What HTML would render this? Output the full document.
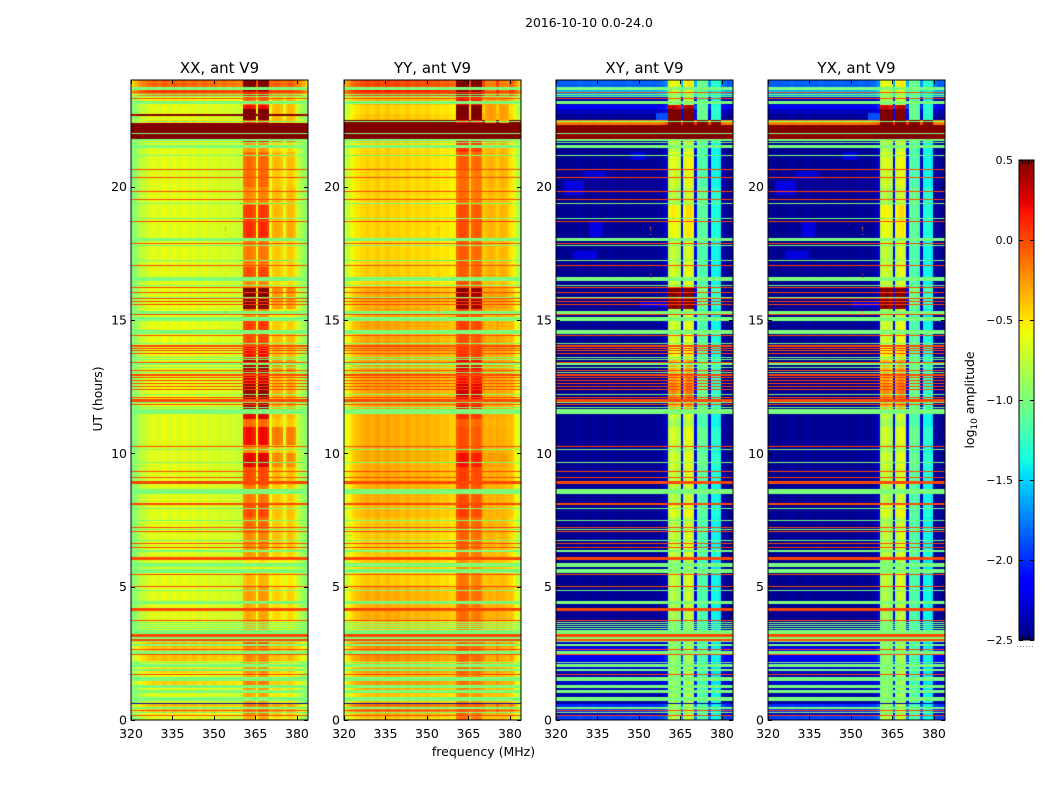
<!DOCTYPE html>
<html lang="en">
<head>
<meta charset="utf-8">
<title>2016-10-10 0.0-24.0</title>
<style>
html,body{margin:0;padding:0;background:#fff;}
#figure{position:relative;width:1050px;height:800px;overflow:hidden;background:#fff;font-family:"DejaVu Sans","Liberation Sans",sans-serif;}
canvas{position:absolute;display:block;}
svg{position:absolute;left:0;top:0;}
svg text{font-family:"DejaVu Sans","Liberation Sans",sans-serif;fill:#000;}
</style>
</head>
<body>
<div id="figure">
<svg id="overlay" width="1050" height="800"></svg>
</div>
<script>
/* ---------- tick labels ---------- */
const freqTicks = [320, 335, 350, 365, 380];
const hourTicks = [0, 5, 10, 15, 20];
const colorbarTicks = [0.5, 0.0, -0.5, -1.0, -1.5, -2.0, -2.5];
const colorbarEndTicks = [1, 2, 3, 4];

/* ---------- frequency channels (MHz edges) ---------- */
const freqEdges = [320,321,322,323,324,325.8,327.6,329.4,331.2,333,334.8,336.6,338.4,340.2,342,343.8,345.6,347.4,349.2,351,352.8,354.6,356.4,358,359.5,360.6,361.7,362.8,363.9,365.1,365.8,366.9,368,369,369.9,370.9,371.9,372.9,373.9,375,375.9,376.9,377.9,378.9,379.7,381,382,383,384];
const channelClass = [0,0,0,0,0,0,0,0,0,0,0,0,0,0,0,0,0,0,0,0,0,0,0,0,0,1,1,1,1,0,1,1,1,1,0,2,2,2,2,0,2,2,2,2,0,0,0,0];

/* ---------- quiet log10 amplitude per channel ---------- */
const xxProfile = [-1.0,-.92,-.85,-.78,-.72,-.66,-.62,-.66,-.6,-.66,-.6,-.65,-.6,-.66,-.62,-.68,-.62,-.68,-.64,-.7,-.66,-.7,-.68,-.72,-.72,-.35,-.3,-.3,-.35,-.6,-.3,-.28,-.3,-.35,-.65,-.48,-.45,-.45,-.5,-.68,-.5,-.45,-.47,-.55,-.72,-.8,-.88,-.98];
const yyProfile = [-.78,-.7,-.62,-.56,-.5,-.46,-.42,-.46,-.4,-.46,-.4,-.45,-.42,-.47,-.42,-.48,-.44,-.48,-.44,-.5,-.47,-.52,-.5,-.55,-.55,-.15,-.1,-.1,-.12,-.45,-.18,-.15,-.15,-.18,-.42,-.38,-.36,-.36,-.38,-.42,-.38,-.36,-.38,-.42,-.5,-.6,-.72,-.85];
const xyProfile = [-2.45,-2.45,-2.45,-2.45,-2.45,-2.45,-2.42,-2.45,-2.45,-2.42,-2.45,-2.45,-2.42,-2.45,-2.45,-2.45,-2.42,-2.45,-2.45,-2.45,-2.42,-2.45,-2.42,-2.4,-2.3,-.85,-.75,-.8,-.9,-2.2,-.85,-.7,-.7,-.8,-2.2,-1.15,-1.2,-1.15,-1.2,-2.3,-1.4,-1.4,-1.4,-1.45,-2.4,-2.45,-2.45,-2.45];
const yxProfile = [-2.45,-2.45,-2.45,-2.45,-2.45,-2.45,-2.42,-2.45,-2.45,-2.42,-2.45,-2.45,-2.42,-2.45,-2.45,-2.45,-2.42,-2.45,-2.45,-2.45,-2.42,-2.45,-2.42,-2.4,-2.3,-.88,-.78,-.8,-.9,-2.2,-.85,-.72,-.7,-.8,-2.2,-1.15,-1.2,-1.15,-1.2,-2.3,-1.4,-1.4,-1.4,-1.45,-2.4,-2.45,-2.45,-2.45];

/* ---------- time segments (UT hour starts) and per-segment offsets ---------- */
const segStart = [0,.2,.3,.65,1,1.25,1.5,1.75,1.95,2.2,2.75,3.2,3.7,4.3,5,5.5,6,6.4,7,7.6,8.1,8.8,9.5,10,10.3,11,11.3,11.6,12,12.6,13,13.5,14,14.5,15,15.4,16,16.2,16.6,17,18,18.7,19.3,20,20.6,21.3,21.65,21.8,22,22.3,22.4,22.5,22.65,22.72,22.9,23.05,23.37,23.54,23.74];

const xxCont  = [0,.1,.25,0,.05,.2,.02,.2,.03,.25,.3,0,0,0,0,0,0,0,0,0,0,0,0,0,0,0,0,.02,.02,.02,.02,.02,.02,.02,.02,.02,.02,0,0,0,0,0,0,0,0,0,.1,2,2,2,.2,0,1.3,0,0,.1,.5,.7,.55];
const xxBandA = [0,.1,.15,0,.05,.15,.02,.1,.03,.1,.25,0,0,.05,-.05,-.2,.05,.1,.2,.3,.15,.3,.55,.1,.5,.2,.55,.7,.75,.6,.7,.5,.3,.35,.1,.8,.9,.1,.3,.15,.4,.35,.1,.2,.2,.05,.5,2,2,2,.3,1,1.5,1.1,.5,.2,.5,.7,.9];
const xxBandB = [0,.05,.15,-.05,0,.05,-.05,.05,-.05,.1,.15,-.1,0,.03,-.05,-.1,.03,.08,.05,.08,.05,.1,.25,.05,.3,.05,.1,.15,.15,.1,.2,.1,.1,.05,-.05,.2,.25,0,.05,.05,.15,.1,.1,.05,.1,0,.3,2,2,2,.1,.1,1,.1,.1,.1,.3,.5,.4];

const yyCont  = [.05,.1,.3,.05,.12,.2,.1,.2,.08,.22,.28,.05,.12,.12,.03,.03,.03,.03,.05,.1,.12,.13,.13,.13,.13,.13,.13,.15,.15,.15,.15,.15,.15,.15,.15,.13,.12,0,.02,0,0,0,0,0,0,0,.05,2,2,2,1.5,.05,.05,0,0,.1,.5,.6,.45];
const yyBandA = [0,0,.05,-.1,-.05,0,-.05,.05,-.05,.05,.05,-.1,0,.03,-.03,-.1,0,.03,.05,.15,.1,.15,.3,.1,.1,.05,.2,.3,.4,.3,.35,.2,.1,.15,.1,.55,.6,.1,.05,.05,.1,.1,0,0,.05,.2,.3,2,2,2,.3,.9,.9,.9,.9,.3,.5,.6,.8];
const yyBandB = [0,0,.1,0,0,.05,0,.05,0,.05,.1,-.05,.03,.03,0,-.03,.02,.03,.03,.03,.03,.05,.1,.03,.05,.03,.05,.05,.05,.05,.08,.05,.05,.03,.03,.1,.1,0,.05,.02,.03,.03,0,.03,.03,.03,.1,2,2,2,.05,.1,.1,.1,.1,.1,.2,.3,.2];

const xyCont  = [.5,.1,.45,.05,.1,.15,.1,.15,.2,.3,.15,.05,0,0,0,0,0,0,0,0,0,0,0,0,0,0,0,0,0,0,0,0,0,0,0,0,0,0,0,0,0,0,0,0,0,0,0,2.9,3,2.3,2.2,0,0,.1,.3,.1,.75,.85,.6];
const xyBandA = [0,-.1,-.05,-.1,-.1,-.1,-.15,-.05,-.1,-.1,-.1,-.15,-.05,0,.05,-.1,.05,.05,0,.15,0,.05,.1,0,.1,-.05,.05,.45,.6,.5,.45,.2,.1,.1,0,1.3,1.5,.1,.1,.05,.2,.25,0,.1,.15,0,.3,2.9,3,2.9,2,1.7,1.7,1.7,1.1,0,0,.1,.2];
const xyBandB = [0,0,0,0,-.05,-.05,-.05,-.05,-.05,0,-.05,-.1,0,0,0,-.05,.05,0,0,.05,0,.05,.1,0,.1,0,0,.1,.1,.1,.1,.05,.05,0,-.05,.1,.2,0,0,0,.05,.05,.1,0,0,0,.1,2.9,3,2.5,2,.1,.1,.1,.1,0,0,.1,.1];

const yxCont  = [.5,.1,.45,.05,.1,.15,.1,.15,.2,.3,.15,.05,0,0,0,0,0,0,0,0,0,0,0,0,0,0,0,0,0,0,0,0,0,0,0,0,0,0,0,0,0,0,0,0,0,0,0,2.9,3,2.3,2.2,0,0,.1,.3,.1,.75,.85,.6];
const yxBandA = [0,-.1,-.05,-.1,-.1,-.1,-.15,-.05,-.1,-.1,-.1,-.15,-.05,0,.05,-.1,.05,.05,0,.15,0,.05,.1,0,.1,-.05,.05,.45,.6,.5,.45,.25,.1,.1,0,1.3,1.5,.1,.1,.05,.2,.25,0,.1,.15,0,.3,2.9,3,2.9,2,1.7,1.7,1.7,1.1,0,0,.1,.2];
const yxBandB = [0,0,0,0,-.05,-.05,-.05,-.05,-.05,0,-.05,-.1,0,0,0,-.05,.05,0,0,.05,0,.05,.1,0,.1,0,0,.1,.1,.1,.1,.05,.05,0,-.05,.1,.2,0,0,0,.05,.05,.1,0,0,0,.1,2.9,3,2.5,2,.1,.1,.1,.1,0,0,.1,.1];

/* ---------- flagged time rows, UT hours ---------- */
const greenLines = [23.73,23.66,23.46,23.37,22.44,21.99,21.75,21.66,21.18,19.38,18.81,18.06,18.0,17.8,17.24,16.3,16.02,15.83,14.11,13.6,13.51,13.35,13.23,13.04,12.21,11.93,11.73,11.63,10.15,9.66,7.94,7.49,7.15,6.74,6.34,4.86,3.66,3.59,3.51,3.44,2.94,2.81,2.06,2.0,1.3,1.24,.45,.29];
const greenBlockStarts = [23.1,21.45,16.47,15.22,14.96,14.48,11.48,8.47,5.73,5.5,4.35,3.21,3.03,2.48,2.13,1.85,1.47,1.0,.71];
const greenBlockEnds = [23.2,21.58,16.61,15.33,15.1,14.63,11.59,8.65,5.88,5.66,4.45,3.36,3.1,2.59,2.19,1.91,1.61,1.13,.85];
const redLines = [23.54,23.31,20.65,20.35,19.83,19.53,18.7,17.88,17.05,16.23,16.04,15.8,15.7,15.59,15.21,14.43,14.03,13.94,13.85,13.75,13.41,13.11,12.94,12.84,12.72,12.61,12.5,12.4,12.1,12.01,11.96,11.84,10.26,9.33,9.1,8.94,8.9,8.86,8.1,7.23,7.08,6.63,6.48,6.08,6.04,5.46,5.01,4.19,4.13,3.74,3.2,3.15,3.0,2.65,2.46,1.71,.36,.16];
const blueLines = [.63];
const flagGreenLevel = -1.0;
const flagRedLevel = 0.0;
const flagBlueLevel = -2.4;

/* ---------- weak cross-hand RFI patches: start h, end h, start MHz, end MHz, level ---------- */
const crossPatchStartHour = [18.1,19.7,20.3,21.0,17.3,22.5,15.5];
const crossPatchEndHour   = [18.7,20.2,20.6,21.3,17.6,22.75,15.7];
const crossPatchStartFreq = [332,323,330,347,326,356,350];
const crossPatchEndFreq   = [337,330,338,352,335,360.6,360];
const crossPatchLevel     = [-2.25,-2.25,-2.28,-2.25,-2.25,-1.9,-2.2];

/* ---------- isolated bad samples near one channel ---------- */
const speckHours = [18.45,18.35,18.2,17.05,16.7,16.6,15.3];
const speckFreq = 353.9;
const speckLevel = -0.2;

/* ---------- colour scale ---------- */
const vMin = -2.5, vMax = 0.5;
function ramp(p, t){
  for (let i = 1; i < p.length; i++){
    if (t <= p[i][0]) return p[i-1][1] + (p[i][1]-p[i-1][1])*(t-p[i-1][0])/(p[i][0]-p[i-1][0]);
  }
  return p[p.length-1][1];
}
const jetR = [[0,0],[.35,0],[.66,1],[.89,1],[1,.5]];
const jetG = [[0,0],[.125,0],[.375,1],[.64,1],[.91,0],[1,0]];
const jetB = [[0,.5],[.11,1],[.34,1],[.65,0],[1,0]];
function jet(v){
  const t = Math.max(0, Math.min(1, (v - vMin)/(vMax - vMin)));
  return 'rgb(' + Math.round(255*ramp(jetR,t)) + ',' + Math.round(255*ramp(jetG,t)) + ',' + Math.round(255*ramp(jetB,t)) + ')';
}

/* ---------- layout ---------- */
const plotTop = 80, plotBottom = 720, panelWidth = 177;
const panels = [
  {id:'xx', title:'XX, ant V9', left:131, profile:xxProfile, cont:xxCont, a:xxBandA, b:xxBandB, patches:false},
  {id:'yy', title:'YY, ant V9', left:344, profile:yyProfile, cont:yyCont, a:yyBandA, b:yyBandB, patches:false},
  {id:'xy', title:'XY, ant V9', left:556, profile:xyProfile, cont:xyCont, a:xyBandA, b:xyBandB, patches:true},
  {id:'yx', title:'YX, ant V9', left:768, profile:yxProfile, cont:yxCont, a:yxBandA, b:yxBandB, patches:true}
];
function yScale(h){ return plotBottom - (h/24)*(plotBottom-plotTop); }
function xScaleFor(left){ return function(f){ return left + ((f-320)/64)*panelWidth; }; }

const figure = document.getElementById('figure');
const overlay = document.getElementById('overlay');
const NS = 'http://www.w3.org/2000/svg';

function svgEl(tag, attrs, text){
  const el = document.createElementNS(NS, tag);
  for (const k in attrs) el.setAttribute(k, attrs[k]);
  if (text !== undefined) el.textContent = text;
  overlay.appendChild(el);
  return el;
}

function drawPanel(p){
  const cv = document.createElement('canvas');
  
  
  cv.width = panelWidth; cv.height = plotBottom-plotTop;
  cv.style.left = p.left + 'px'; cv.style.top = plotTop + 'px';
  figure.insertBefore(cv, overlay);
  const ctx = cv.getContext('2d');
  const xs = function(f){ return xScaleFor(0)(f); };
  const ys = function(h){ return yScale(h) - plotTop; };
  function band(h0, h1, f0, f1, v){
    const x0 = Math.round(xs(f0)), x1 = Math.round(xs(f1));
    const yA = Math.round(ys(h1)), yB = Math.round(ys(h0));
    ctx.fillStyle = jet(v);
    ctx.fillRect(x0, yA, Math.max(1, x1-x0), Math.max(1, yB-yA));
  }
  for (let s = 0; s < segStart.length; s++){
    const h0 = segStart[s], h1 = s+1 < segStart.length ? segStart[s+1] : 24;
    for (let j = 0; j < freqEdges.length-1; j++){
      const cls = channelClass[j];
      const off = cls === 0 ? p.cont[s] : (cls === 1 ? p.a[s] : p.b[s]);
      band(h0, h1, freqEdges[j], freqEdges[j+1], p.profile[j] + off);
    }
  }
  if (p.patches){
    crossPatchLevel.forEach(function(v,i){
      band(crossPatchStartHour[i], crossPatchEndHour[i], crossPatchStartFreq[i], crossPatchEndFreq[i], v);
    });
  }
  greenBlockStarts.forEach(function(h,i){ band(h, greenBlockEnds[i], 320, 384, flagGreenLevel); });
  greenLines.forEach(function(h){ band(h-.025, h+.025, 320, 384, flagGreenLevel); });
  redLines.forEach(function(h){ band(h-.025, h+.025, 320, 384, flagRedLevel); });
  blueLines.forEach(function(h){ band(h-.025, h+.025, 320, 384, flagBlueLevel); });
  speckHours.forEach(function(h){ band(h-.02, h+.02, speckFreq, speckFreq+.4, speckLevel); });

  const x = xScaleFor(p.left);
  const right = p.left + panelWidth;
  const frame = svgEl('rect', {x:p.left, y:plotTop, width:panelWidth, height:plotBottom-plotTop, fill:'none', stroke:'#000', 'stroke-width':1});
  
  

  freqTicks.forEach(function(f){
    const px = Math.round(x(f))+.5;
    const t1 = svgEl('line', {x1:px, x2:px, y1:plotBottom, y2:plotBottom-4, stroke:'#000', 'stroke-width':1});
    
    
    const t2 = svgEl('line', {x1:px, x2:px, y1:plotTop, y2:plotTop+4, stroke:'#000', 'stroke-width':1});
    
    
    const lab = svgEl('text', {x:x(f), y:plotBottom+18, 'font-size':12.5, 'text-anchor':'middle'}, String(f));
    
    
  });
  hourTicks.forEach(function(h){
    const py = Math.round(yScale(h))+.5;
    const t1 = svgEl('line', {x1:p.left, x2:p.left+4, y1:py, y2:py, stroke:'#000', 'stroke-width':1});
    
    
    const t2 = svgEl('line', {x1:right-4, x2:right, y1:py, y2:py, stroke:'#000', 'stroke-width':1});
    
    
    const lab = svgEl('text', {x:p.left-4, y:yScale(h)+4.5, 'font-size':12.5, 'text-anchor':'end'}, String(h));
    
    
  });
  const title = svgEl('text', {x:p.left+panelWidth/2, y:73, 'font-size':15, 'text-anchor':'middle'}, p.title);
  
  
}
panels.forEach(drawPanel);

/* ---------- figure labels ---------- */
const suptitle = svgEl('text', {x:589, y:27, 'font-size':12.4, 'text-anchor':'middle'}, '2016-10-10 0.0-24.0');


const xTitle = svgEl('text', {x:483.5, y:756, 'font-size':12.5, 'text-anchor':'middle'}, 'frequency (MHz)');


const yTitle = svgEl('text', {x:0, y:0, 'font-size':12.4, 'text-anchor':'middle', transform:'translate(102,399) rotate(-90)'}, 'UT (hours)');



/* ---------- colorbar ---------- */
const cbLeft = 1019, cbWidth = 15, cbTop = 160, cbBottom = 640;
function cbScale(v){ return cbBottom - ((v-vMin)/(vMax-vMin))*(cbBottom-cbTop); }
const cb = document.createElement('canvas');


cb.width = cbWidth; cb.height = cbBottom-cbTop;
cb.style.left = cbLeft + 'px'; cb.style.top = cbTop + 'px';
figure.insertBefore(cb, overlay);
const cbx = cb.getContext('2d');
for (let py = 0; py < cbBottom-cbTop; py++){
  cbx.fillStyle = jet(vMax - (py+.5)/(cbBottom-cbTop)*(vMax-vMin));
  cbx.fillRect(0, py, cbWidth, 1);
}
const cbFrame = svgEl('rect', {x:cbLeft, y:cbTop, width:cbWidth, height:cbBottom-cbTop, fill:'none', stroke:'#000', 'stroke-width':1});


colorbarTicks.forEach(function(v){
  const py = Math.round(cbScale(v))+.5;
  const t1 = svgEl('line', {x1:cbLeft, x2:cbLeft+4, y1:py, y2:py, stroke:'#000', 'stroke-width':1});
  
  
  const t2 = svgEl('line', {x1:cbLeft+cbWidth-4, x2:cbLeft+cbWidth, y1:py, y2:py, stroke:'#000', 'stroke-width':1});
  
  
  const label = (v < 0 ? '\u2212' : '') + Math.abs(v).toFixed(1);
  const lab = svgEl('text', {x:cbLeft-6, y:cbScale(v)+4, 'font-size':11, 'text-anchor':'end'}, label);
  
  
});
colorbarEndTicks.forEach(function(k){
  const px = cbLeft + k*3 + .5;
  const top = svgEl('line', {x1:px, x2:px, y1:cbTop, y2:cbTop+4, stroke:'#000', 'stroke-width':1});
  
  
  const bottom = svgEl('line', {x1:px, x2:px, y1:cbBottom-4, y2:cbBottom, stroke:'#000', 'stroke-width':1});
  
  
});
const cbTitle = svgEl('text', {x:0, y:0, 'font-size':12.4, 'text-anchor':'middle', transform:'translate(974,400) rotate(-90)'});


const t1 = document.createElementNS(NS, 'tspan'); t1.textContent = 'log';
const t2 = document.createElementNS(NS, 'tspan'); t2.textContent = '10'; t2.setAttribute('font-size', '9'); t2.setAttribute('dy', '3');
const t3 = document.createElementNS(NS, 'tspan'); t3.textContent = ' amplitude'; t3.setAttribute('dy', '-3');
cbTitle.appendChild(t1); cbTitle.appendChild(t2); cbTitle.appendChild(t3);
const cbDots = svgEl('line', {x1:1017, x2:1035, y1:646.5, y2:646.5, stroke:'#888', 'stroke-width':1, 'stroke-dasharray':'1 2'});


</script>
</body>
</html>
